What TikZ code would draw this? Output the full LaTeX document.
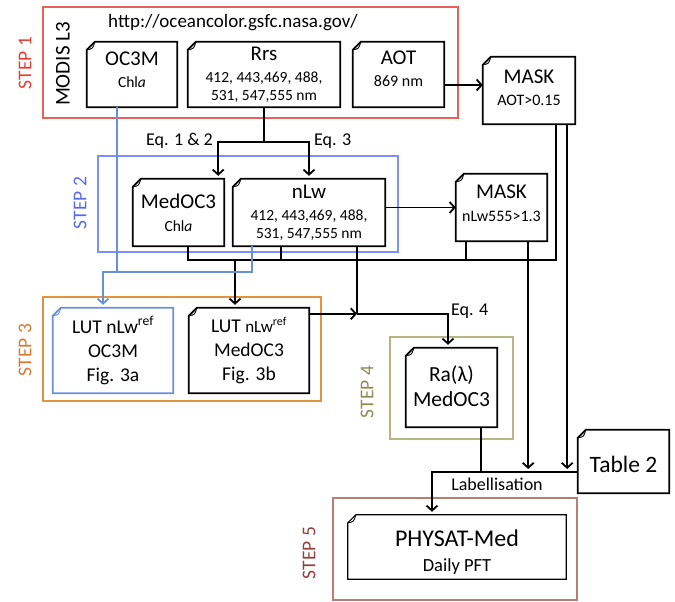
\documentclass[tikz,border=0pt]{standalone}
\usepackage{fontspec}
\setmainfont{Carlito}
\usetikzlibrary{arrows.meta,calc}

\definecolor{redS}{RGB}{232,96,86}
\definecolor{redT}{RGB}{226,62,50}
\definecolor{blueS}{RGB}{125,142,255}
\definecolor{blueT}{RGB}{88,104,240}
\definecolor{lineblue}{RGB}{104,142,222}
\definecolor{orangeS}{RGB}{230,145,60}
\definecolor{orangeT}{RGB}{216,120,50}
\definecolor{oliveS}{RGB}{185,180,130}
\definecolor{oliveT}{RGB}{142,138,84}
\definecolor{brownS}{RGB}{188,124,118}
\definecolor{brownT}{RGB}{150,62,62}

\newcommand\fs[2]{\fontsize{#1}{#2}\selectfont}

% document outline with a folded top-left corner
\newcommand\docframe[3]{%
  \draw[#2, line width=#3, line join=miter]
    ([yshift=-8pt]#1.north west) -- ([xshift=8pt]#1.north west) -- (#1.north east)
    -- (#1.south east) -- (#1.south west) -- cycle;
  \draw[#2, line width=0.9pt]
    ([xshift=8pt]#1.north west) .. controls ([xshift=6pt,yshift=-7pt]#1.north west)
    .. ([yshift=-8pt]#1.north west);
}

\begin{document}
\begin{tikzpicture}[x=1pt,y=-1pt,
  docbox/.style={inner sep=0pt},
  doctext/.style={inner sep=0pt, align=center, font=\fs{21}{22}},
  stepframe/.style={line width=1.1pt},
  steplabel/.style={rotate=90, font=\fs{19.5}{22}},
  eqlabel/.style={font=\fs{18}{20}, inner sep=0pt},
  conn/.style={line width=1.8pt, line join=miter},
  arrj/.style={conn, -{Straight Barb[length=5pt,width=11pt]}},
  arr/.style={arrj, shorten >=3pt},
]
\useasboundingbox (0,0) rectangle (675,602);

% step frames
\draw[stepframe, draw=redS]    (43,7)   rectangle (458,118);
\draw[stepframe, draw=blueS]   (98,156) rectangle (398,252);
\draw[stepframe, draw=orangeS] (43,297) rectangle (321,401);
\draw[stepframe, draw=oliveS]  (390,337) rectangle (513,439);
\draw[stepframe, draw=brownS]  (333,498) rectangle (577,600);

% step labels
\node[steplabel, text=redT]    (s1) at (25,63)  {STEP 1};
\node[steplabel, text=blueT]   (s2) at (80,203) {STEP 2};
\node[steplabel, text=orangeT] (s3) at (25,350) {STEP 3};
\node[steplabel, text=oliveT]  (s4) at (367,392) {STEP 4};
\node[steplabel, text=brownT]  (s5) at (309,553) {STEP 5};

\node[rotate=90, font=\fs{21}{23}] (modis) at (63,64) {MODIS L3};
\node[font=\fs{19}{21}] (url) at (233,23) {http://oceancolor.gsfc.nasa.gov/};

% document boxes
\node[docbox, minimum width=90,  minimum height=65] (oc3m)    at (132,74.5) {};
\node[docbox, minimum width=152, minimum height=65] (rrs)     at (264,74.5) {};
\node[docbox, minimum width=91,  minimum height=65] (aot)     at (398.5,74.5) {};
\node[docbox, minimum width=92,  minimum height=67] (maskaot) at (529,90.5) {};
\node[docbox, minimum width=91,  minimum height=67] (medoc3)  at (178.5,212.5) {};
\node[docbox, minimum width=152, minimum height=67] (nlw)     at (309,212.5) {};
\node[docbox, minimum width=91,  minimum height=67] (masknlw) at (501.5,207.5) {};
\node[docbox, minimum width=120, minimum height=85] (lutoc3m) at (113,350.5) {};
\node[docbox, minimum width=120, minimum height=85] (lutmed)  at (249,350.5) {};
\node[docbox, minimum width=91,  minimum height=79] (ra)      at (451.5,387.5) {};
\node[docbox, minimum width=91,  minimum height=63] (table2)  at (623.5,461.5) {};
\node[docbox, minimum width=218, minimum height=64] (physat)  at (457,547) {};

\docframe{oc3m}{black}{1.8pt}
\docframe{rrs}{black}{1.8pt}
\docframe{aot}{black}{1.8pt}
\docframe{maskaot}{black}{1.8pt}
\docframe{medoc3}{black}{1.8pt}
\docframe{nlw}{black}{1.8pt}
\docframe{masknlw}{black}{1.8pt}
\docframe{lutoc3m}{lineblue}{1.8pt}
\docframe{lutmed}{black}{1.8pt}
\docframe{ra}{black}{1.8pt}
\docframe{table2}{black}{1.8pt}
\docframe{physat}{black}{1.2pt}

% box texts
\node[doctext] (oc3m-t) at ([yshift=5pt]oc3m.center)
  {OC3M\\[0pt]\fs{15.5}{18}Chl\textit{a}};
\node[doctext] (rrs-t) at (rrs.center)
  {Rrs\\[0pt]\fs{15.5}{18.5}412, 443,469, 488,\\[-4pt]\fs{15.5}{18.5}531, 547,555 nm};
\node[doctext] (aot-t) at ([yshift=6pt]aot.center)
  {AOT\\[0pt]\fs{16}{19}869 nm};
\node[doctext] (maskaot-t) at ([yshift=3pt]maskaot.center)
  {MASK\\[0pt]\fs{16}{19}AOT>0.15};
\node[doctext] (medoc3-t) at (medoc3.center)
  {MedOC3\\[1pt]\fs{15.5}{18}Chl\textit{a}};
\node[doctext] (nlw-t) at (nlw.center)
  {nLw\\[0pt]\fs{15.5}{18.5}412, 443,469, 488,\\[-4pt]\fs{15.5}{18.5}531, 547,555 nm};
\node[doctext] (masknlw-t) at ([yshift=4pt]masknlw.center)
  {MASK\\[1pt]\fs{16}{19}nLw555>1.3};
\node[doctext, font=\fs{19.5}{24}] (lutoc3m-t) at (lutoc3m.center)
  {LUT nLw\textsuperscript{ref}\\OC3M\\Fig. 3a};
\node[doctext, font=\fs{19.5}{24}] (lutmed-t) at (lutmed.center)
  {LUT {\fs{17}{24}nLw\textsuperscript{ref}}\\MedOC3\\Fig. 3b};
\node[doctext, font=\fs{21.5}{25}] (ra-t) at ([yshift=1pt]ra.center)
  {Ra(λ)\\MedOC3};
\node[doctext, font=\fs{23.5}{26}] (table2-t) at ([yshift=-3pt]table2.center)
  {Table 2};
\node[doctext, font=\fs{24}{25}] (physat-t) at ([yshift=-5pt]physat.center)
  {PHYSAT-Med\\[0pt]\fs{18.5}{21}Daily PFT};

% connection points
\coordinate (aotout) at ([yshift=-10.5pt]aot.east);
\coordinate (split) at ([yshift=-35pt]rrs.south);
\coordinate (moIn) at ([xshift=-6pt]medoc3.north east);
\coordinate (mA) at ([xshift=-19pt]maskaot.south east);
\coordinate (mA2) at ([xshift=-8pt]maskaot.south east);
\coordinate (mN) at ([xshift=10pt]masknlw.south west);
\coordinate (mN2) at ([xshift=-19pt]masknlw.south east);
\coordinate (mo) at ([xshift=9.5pt]medoc3.south);
\coordinate (nl1) at ([xshift=-28pt]nlw.south);
\coordinate (nl2) at ([xshift=48pt]nlw.south);
\coordinate (nlb) at ([xshift=19pt]nlw.south west);
\coordinate (oc) at ([xshift=-15pt]oc3m.south);
\coordinate (lm) at ([xshift=-14pt]lutmed.north);
\coordinate (lo) at ([xshift=-10pt]lutoc3m.north);
\coordinate (lmE) at ([yshift=-6pt]lutmed.north east);
\coordinate (rtop) at ([xshift=-3.5pt]ra.north);
\coordinate (rb) at ([xshift=-16pt]ra.south east);
\coordinate (pt) at ([xshift=-25pt]physat.north);
\coordinate (bus) at (0,260);
\coordinate (bbus) at (0,272);
\coordinate (lab) at (0,472);

% connectors
\draw[arrj] (aotout) -- (aotout -| maskaot.west);
\draw[conn] (rrs.south) -- (split);
\draw[arr] (split) -| (nlw.north);
\draw[arr] (split) -| (moIn);
\node[eqlabel, anchor=east] (eq12) at (213,141) {Eq. 1 \& 2};
\node[eqlabel, anchor=west] (eq3) at (314,141) {Eq. 3};

\draw[arrj] (nlw.east |- masknlw.west) -- (masknlw.west);

\draw[conn] (mo) |- (mA |- bus) -- (mA);
\draw[conn] (nl1) -- (nl1 |- bus);
\draw[conn] (mN) -- (mN |- bus);
\draw[arr] (lm |- bus) -- (lm);

\draw[conn, draw=lineblue] (oc) -- (oc |- bbus);
\draw[arr, draw=lineblue] (nlb) |- (lo |- bbus) -- (lo);

\draw[conn] (nl2) -- (nl2 |- lmE);
\draw[arrj] (lmE) -- (nl2 |- lmE);
\draw[arr] (nl2 |- lmE) -| (rtop);
\node[eqlabel, anchor=west] (eq4) at (451,311) {Eq. 4};

\draw[arr] (mA2) -- (mA2 |- lab);
\draw[arr] (mN2) -- (mN2 |- lab);
\draw[conn] (rb) -- (rb |- lab);
\draw[arr] (table2.west |- lab) -| (pt);
\node[font=\fs{18}{20}] (labl) at (497,484) {Labellisation};
\end{tikzpicture}
\end{document}
